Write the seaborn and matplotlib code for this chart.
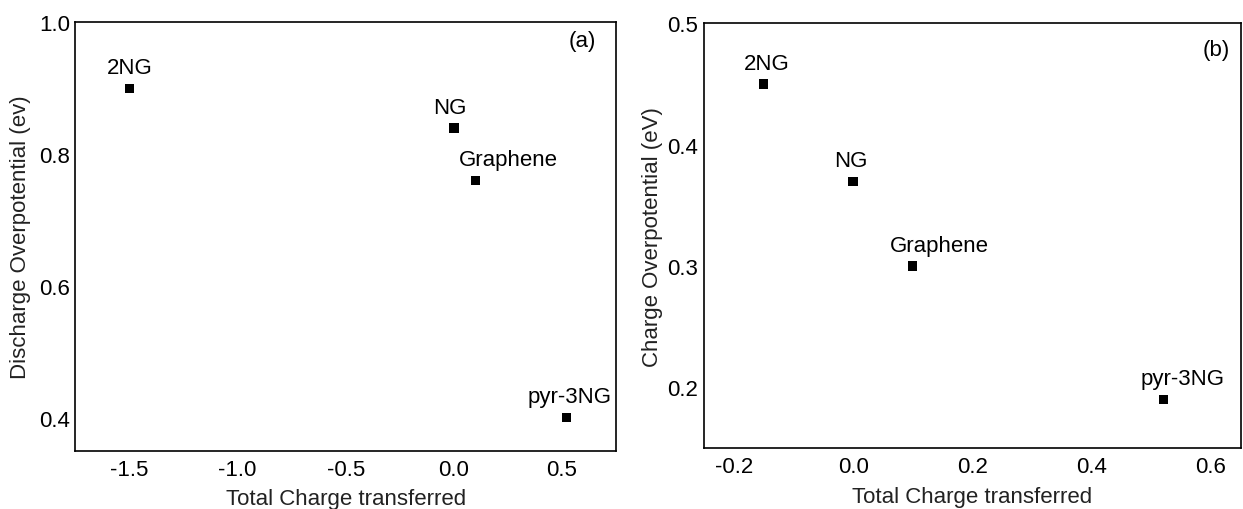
import matplotlib
matplotlib.use("Agg")
import matplotlib.pyplot as plt
import seaborn as sns
import pandas as pd

# ---- data ----
materials = ["2NG", "NG", "Graphene", "pyr-3NG"]
charge_a = [-1.5, 0.0, 0.1, 0.52]
discharge_op = [0.90, 0.84, 0.76, 0.40]
charge_b = [-0.15, 0.0, 0.1, 0.52]
charge_op = [0.45, 0.37, 0.30, 0.19]
xticks_a = [-1.5, -1.0, -0.5, 0.0, 0.5]
yticks_a = [0.4, 0.6, 0.8, 1.0]
xticks_b = [-0.2, 0.0, 0.2, 0.4, 0.6]
yticks_b = [0.2, 0.3, 0.4, 0.5]

sns.set_theme(style="white")
plt.rcParams["font.family"] = ["Liberation Sans", "DejaVu Sans"]

fig = plt.figure(figsize=(12.43, 5.10), dpi=100)
ax1 = fig.add_axes([0.0607, 0.1143, 0.4349, 0.8397])
ax2 = fig.add_axes([0.5664, 0.1196, 0.4318, 0.8324])

df_a = pd.DataFrame({"material": materials, "x": charge_a, "y": discharge_op})
df_b = pd.DataFrame({"material": materials, "x": charge_b, "y": charge_op})

# label offsets in points (layout only)
off_a = [(0, 11), (-3, 11), (24, 11), (2, 11)]
off_b = [(2, 11), (-2, 11), (19, 11), (14, 11)]

def panel(ax, df, offs, xlim, ylim, xt, yt, ylabel, ylpad, tag, tagpos):
    sns.scatterplot(data=df, x="x", y="y", ax=ax, marker="s", s=45,
                    color="black", edgecolor="none", legend=False)
    for (_, r), o in zip(df.iterrows(), offs):
        ax.annotate(r["material"], (r["x"], r["y"]), xytext=o,
                    textcoords="offset points", ha="center", va="baseline",
                    fontsize=16, color="black")
    ax.set_xlim(*xlim)
    ax.set_ylim(*ylim)
    ax.set_xticks(xt)
    ax.set_yticks(yt)
    ax.set_xticklabels([f"{v:.1f}" for v in xt])
    ax.set_yticklabels([f"{v:.1f}" for v in yt])
    ax.tick_params(axis="both", length=0, labelsize=16, colors="black")
    ax.tick_params(axis="x", pad=6)
    ax.tick_params(axis="y", pad=4)
    ax.set_xlabel("Total Charge transferred", fontsize=16, color="#222222", labelpad=6)
    ax.set_ylabel(ylabel, fontsize=16, color="#222222", labelpad=ylpad)
    for sp in ax.spines.values():
        sp.set_visible(True)
        sp.set_color("black")
        sp.set_linewidth(1.2)
    ax.text(tagpos[0], tagpos[1], tag, transform=ax.transAxes, ha="center",
            va="center", fontsize=16, color="black")
    ax.grid(False)

panel(ax1, df_a, off_a, (-1.75, 0.75), (0.35, 1.0), xticks_a, yticks_a,
      "Discharge Overpotential (ev)", 6, "(a)", (0.937, 0.9575))
panel(ax2, df_b, off_b, (-0.25, 0.65), (0.15, 0.5), xticks_b, yticks_b,
      "Charge Overpotential (eV)", 3, "(b)", (0.954, 0.938))

fig.savefig("out.png", dpi=100)
